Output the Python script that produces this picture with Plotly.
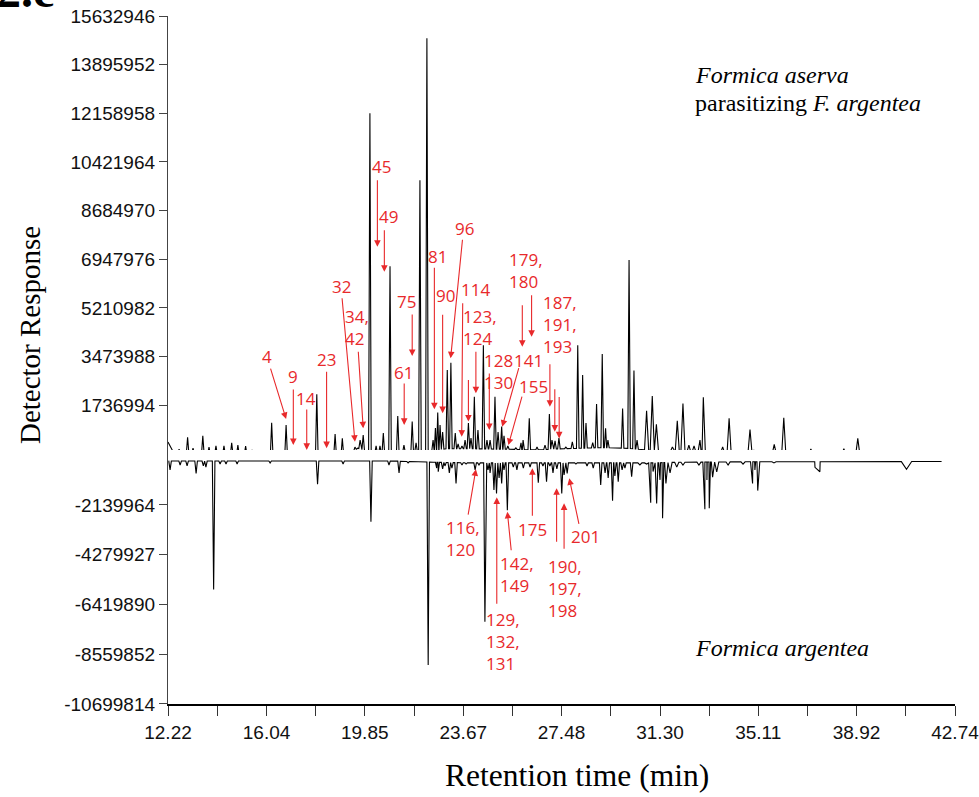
import numpy as np
import plotly.graph_objects as go

# ---------------- data ----------------
# Upper trace: Formica aserva parasitizing F. argentea (retention time min, detector response)
up_peak_t = [12.65, 12.98, 13.19, 13.57, 13.81, 14.08, 14.39, 14.69, 14.93, 15.23, 15.48, 15.71,
             16.24, 16.80, 17.06, 17.60, 17.80, 17.99, 18.37, 18.50, 18.70, 18.98, 19.47, 19.67,
             19.79, 20.05, 20.29, 20.44, 20.57, 20.83, 21.13, 21.37, 21.69, 21.84, 21.99, 22.26,
             22.50, 22.59, 22.68, 22.77, 22.87, 23.05, 23.19, 23.36, 23.47, 23.62, 23.74, 23.87,
             23.97, 24.10, 24.24, 24.45, 24.59, 24.71, 24.90, 25.02, 25.16, 25.25, 25.40, 25.71,
             25.91, 25.99, 26.23, 26.53, 26.84, 27.01, 27.11, 27.23, 27.38, 27.65, 27.90, 28.11,
             28.30, 28.43, 28.69, 28.84, 29.06, 29.19, 29.28, 29.85, 30.10, 30.29, 30.41, 30.78,
             31.00, 31.16, 31.78, 31.97, 32.19, 32.42, 32.62, 32.85, 32.98, 33.73, 33.98, 34.79,
             34.94, 35.73, 36.10, 37.15, 37.40, 38.43, 38.64, 38.97, 40.38]
up_peak_h = [0.17, 0.59, 0.20, 0.64, 0.24, 0.28, 0.28, 0.39, 0.31, 0.28, 0.14, 0.10,
             1.11, 1.03, 0.11, 0.10, 0.10, 2.13, 0.10, 0.08, 0.71, 0.55, 0.24, 0.49,
             0.67, 12.16, 0.28, 0.28, 0.74, 6.70, 1.35, 0.31, 1.15, 0.39, 9.77, 14.84,
             0.49, 0.92, 1.47, 1.03, 0.78, 2.99, 3.25, 0.74, 0.35, 0.28, 0.49, 1.10,
             0.56, 2.04, 0.85, 3.88, 0.49, 0.49, 2.04, 0.78, 0.97, 0.64, 0.28, 0.21,
             0.39, 0.49, 1.27, 0.24, 0.31, 1.42, 0.49, 0.46, 0.56, 0.24, 0.43, 3.88,
             2.81, 1.10, 0.40, 1.78, 3.56, 0.91, 0.49, 1.62, 6.92, 2.97, 0.49, 1.54,
             2.06, 1.05, 0.24, 1.18, 1.80, 0.31, 0.28, 0.49, 2.02, 0.25, 1.27, 0.87,
             0.14, 0.34, 1.29, 0.17, 0.09, 0.18, 0.11, 0.55, 0.04]
up_base_t = [12.22, 12.45, 15.0, 18.9, 19.3, 19.58, 19.9, 20.2, 21.0, 22.4, 23.0, 24.0,
             25.5, 26.5, 27.5, 29.0, 30.0, 31.3, 32.0, 33.5, 35.5, 40.0, 42.0, 42.22]
up_base_v = [0.42, 0.02, -0.02, -0.04, 0.02, 0.20, 0.10, 0.02, 0.05, 0.10, 0.18, 0.18,
             0.16, 0.14, 0.18, 0.22, 0.20, 0.10, 0.06, 0.02, 0.0, -0.04, -0.04, 0.03]

# Lower trace: Formica argentea (plotted as negative response)
lo_peak_t = [12.30, 12.69, 12.96, 13.31, 13.59, 13.69, 13.99, 14.24, 14.47, 14.90, 16.18, 18.02,
             19.01, 20.09, 20.79, 21.18, 21.53, 22.31, 22.64, 22.70, 22.87, 22.96, 23.13, 23.23,
             23.39, 23.62, 23.78, 24.13, 24.28, 24.51, 24.63, 24.71, 24.86, 24.96, 25.06, 25.16,
             25.25, 25.38, 25.61, 25.75, 26.00, 26.26, 26.58, 26.76, 26.90, 27.03, 27.15, 27.30,
             27.49, 27.58, 27.70, 28.04, 28.47, 28.71, 29.00, 29.17, 29.29, 29.46, 29.55, 29.68,
             29.83, 29.94, 30.20, 30.52, 30.78, 30.94, 31.03, 31.17, 31.30, 31.40, 31.53, 31.69,
             31.95, 32.19, 32.81, 33.04, 33.12, 33.21, 33.34, 33.50, 33.94, 34.52, 34.89, 34.98,
             35.09, 35.72, 37.31, 37.50, 40.86]
lo_peak_h = [-0.63, -0.42, -0.46, -0.78, -0.46, -0.51, -5.77, -0.38, -0.38, -0.38, -0.33, -1.25,
             -0.38, -2.86, -0.42, -0.76, -0.33, -9.02, -0.55, -0.71, -0.59, -0.46, -0.76, -0.55,
             -1.21, -0.42, -0.38, -0.63, -0.42, -7.16, -0.63, -0.76, -1.49, -1.64, -0.98, -1.21,
             -0.63, -2.36, -0.51, -0.63, -0.55, -0.51, -1.18, -0.46, -1.14, -0.46, -0.76, -0.59,
             -1.64, -0.85, -0.78, -0.38, -0.46, -0.55, -1.28, -0.76, -0.98, -1.96, -0.89, -1.14,
             -0.63, -0.55, -0.92, -0.42, -0.38, -2.04, -0.70, -2.07, -1.06, -2.71, -1.21, -0.76,
             -0.51, -0.42, -0.42, -2.32, -1.06, -2.28, -0.94, -0.72, -0.42, -0.38, -1.21, -0.63,
             -1.52, -0.33, -0.52, -0.71, -0.60]
lo_base_t = [12.24, 21.0, 22.5, 24.0, 28.0, 31.0, 32.0, 35.0, 42.22]
lo_base_v = [-0.25, -0.25, -0.30, -0.33, -0.33, -0.33, -0.30, -0.28, -0.27]
broad_peaks = [37.31, 37.50, 40.86]

SCALE = 1e6  # values above are in millions of detector units

# axis ticks
x_tick_vals = [12.22, 16.04, 19.85, 23.67, 27.48, 31.30, 35.11, 38.92, 42.74]
x_tick_text = ["12.22", "16.04", "19.85", "23.67", "27.48", "31.30", "35.11", "38.92", "42.74"]
y_up_ticks = [1736994, 3473988, 5210982, 6947976, 8684970, 10421964, 12158958, 13895952, 15632946]
y_lo_ticks = [-2139964, -4279927, -6419890, -8559852, -10699814]

# compound labels: (text, retention time, response in millions, subplot)
label_text = [("4", 16.06, 3.49, "y"), ("9", 17.08, 2.75, "y"), ("14", 17.56, 1.98, "y"),
              ("23", 18.35, 3.38, "y"), ("32", 18.96, 5.96, "y"), ("34,<br>42", 19.54, 4.505, "y"),
              ("45", 20.48, 10.27, "y"), ("49", 20.76, 8.49, "y"),
              ("61", 21.37, 2.91, "y"), ("75", 21.48, 5.43, "y"), ("81", 22.68, 7.03, "y"),
              ("90", 22.99, 5.67, "y"), ("96", 23.70, 8.05, "y"), ("114", 24.13, 5.85, "y"),
              ("123,<br>124", 24.32, 4.52, "y"), ("128<br>130", 25.05, 2.93, "y"),
              ("141", 26.19, 3.32, "y"), ("155", 26.39, 2.42, "y"),
              ("179,<br>180", 26.10, 6.535, "y"), ("187,<br>191,<br>193", 27.42, 4.62, "y"),
              ("116,<br>120", 23.65, -3.575, "y2"), ("129,<br>132,<br>131", 25.22, -8.02, "y2"),
              ("142,<br>149", 25.77, -5.13, "y2"), ("175", 26.35, -3.19, "y2"),
              ("190,<br>197,<br>198", 27.62, -5.74, "y2"), ("201", 28.42, -3.50, "y2")]
# arrows: head (retention time, response in millions), tail offset in px, subplot
arrow_specs = [(16.80, 1.24, -16, -52, "y"), (17.08, 0.31, 0, -57, "y"), (17.60, 0.14, 0, -42, "y"),
               (18.37, 0.20, 0, -78, "y"), (19.47, 0.43, -13, -145, "y"), (19.79, 0.91, -5, -78, "y"),
               (20.34, 7.39, 0, -68, "y"), (20.61, 6.50, 0, -43, "y"), (21.38, 1.03, 0, -43, "y"),
               (21.69, 3.49, 0, -43, "y"), (22.55, 1.59, 0, -143, "y"), (22.87, 1.45, 0, -100, "y"),
               (23.18, 3.41, 12, -120, "y"), (23.61, 0.61, 1, -135, "y"), (23.87, 1.15, 0, -43, "y"),
               (24.16, 2.16, 0, -43, "y"), (24.68, 0.85, 0, -58, "y"), (25.18, 0.97, 17, -60, "y"),
               (25.42, 0.31, 14, -50, "y"), (25.96, 3.82, 0, -43, "y"), (26.32, 4.18, 0, -43, "y"),
               (27.03, 1.68, 0, -44, "y"), (27.22, 0.79, 0, -44, "y"), (27.39, 0.55, 0, -43, "y"),
               (24.16, -0.60, -8, 47, "y2"), (24.97, -1.81, 0, 108, "y2"), (25.38, -2.43, 4, 40, "y2"),
               (26.35, -0.56, 0, 49, "y2"), (27.29, -1.42, 0, 55, "y2"), (27.58, -2.07, 0, 47, "y2"),
               (27.78, -0.99, 10, 47, "y2")]


# ---------------- build traces ----------------
def peak_width(t):
    if t in broad_peaks:
        return 0.2
    return 0.05 if t < 30.5 else 0.08


def build_trace(pt, ph, bt, bv):
    spans = [(t - peak_width(t), t + peak_width(t)) for t in pt]
    xs, ys = [], []
    for t, v in zip(bt, bv):
        if not any(a <= t <= b for a, b in spans):
            xs.append(t)
            ys.append(v)
    for t, h in zip(pt, ph):
        w = peak_width(t)
        xs += [t - w, t, t + w]
        ys += [float(np.interp(t - w, bt, bv)), h, float(np.interp(t + w, bt, bv))]
    xs = np.array(xs)
    ys = np.array(ys) * SCALE
    order = np.argsort(xs, kind="stable")
    return xs[order], ys[order]


ux, uy = build_trace(up_peak_t, up_peak_h, up_base_t, up_base_v)
lx, ly = build_trace(lo_peak_t, lo_peak_h, lo_base_t, lo_base_v)

fig = go.Figure()
fig.add_trace(go.Scatter(x=ux, y=uy, mode="lines", line=dict(color="black", width=1.1),
                         xaxis="x", yaxis="y", showlegend=False, hoverinfo="skip"))
fig.add_trace(go.Scatter(x=lx, y=ly, mode="lines", line=dict(color="black", width=1.1),
                         xaxis="x", yaxis="y2", showlegend=False, hoverinfo="skip"))

RED = "#E8292B"
annotations = []
for txt, t, v, ax_ in label_text:
    annotations.append(dict(text=txt, x=t, y=v * SCALE, xref="x", yref=ax_, showarrow=False,
                            font=dict(family="Open Sans", size=17, color=RED), align="left",
                            xanchor="center", yanchor="middle"))
for t, v, dx, dy, ax_ in arrow_specs:
    annotations.append(dict(text="", x=t, y=v * SCALE, xref="x", yref=ax_, showarrow=True,
                            ax=dx, ay=dy, axref="pixel", ayref="pixel",
                            arrowhead=2, arrowsize=1.2, arrowwidth=1.1, arrowcolor=RED,
                            standoff=0, startstandoff=0))

serif = "Liberation Serif"
annotations += [
    dict(text="<b>2.c</b>", x=-0.2198, y=1.037, xref="paper", yref="paper", xanchor="left",
         yanchor="middle", showarrow=False, font=dict(family=serif, size=48, color="black")),
    dict(text="Detector Response", x=-0.1753, y=0.5363, xref="paper", yref="paper", textangle=-90,
         xanchor="center", yanchor="middle",
         showarrow=False, font=dict(family=serif, size=29, color="black")),
    dict(text="Retention time (min)", x=0.5197, y=-0.1032, xref="paper", yref="paper",
         xanchor="center", yanchor="middle",
         showarrow=False, font=dict(family=serif, size=31.5, color="black")),
    dict(text="<i>Formica aserva</i>", x=0.6671, y=0.9142, xref="paper", yref="paper",
         xanchor="left", yanchor="middle", showarrow=False,
         font=dict(family=serif, size=24, color="black")),
    dict(text="parasitizing <i>F. argentea</i>", x=0.6671, y=0.8735, xref="paper", yref="paper",
         xanchor="left", yanchor="middle", showarrow=False,
         font=dict(family=serif, size=24, color="black")),
    dict(text="<i>Formica argentea</i>", x=0.6671, y=0.0814, xref="paper", yref="paper",
         xanchor="left", yanchor="middle", showarrow=False,
         font=dict(family=serif, size=24, color="black")),
]

tickfont = dict(family="Liberation Sans", size=19, color="#111")
x_minor = [(a + b) / 2 for a, b in zip(x_tick_vals[:-1], x_tick_vals[1:])]

fig.update_layout(
    width=979, height=797,
    margin=dict(l=168, r=24, t=16, b=93, autoexpand=False),
    paper_bgcolor="white", plot_bgcolor="white",
    showlegend=False,
    xaxis=dict(domain=[0, 1], range=[12.2199, 42.7401], anchor="y2", showline=True,
               linecolor="black", linewidth=1.5, ticks="outside", ticklen=10, tickwidth=1.2,
               tickcolor="#333", tickvals=x_tick_vals, ticktext=x_tick_text, tickfont=tickfont,
               ticklabeloverflow="allow", automargin=False, showgrid=False, zeroline=False,
               minor=dict(tickvals=x_minor, ticks="outside", ticklen=10, tickwidth=1.2,
                          tickcolor="#333", showgrid=False)),
    yaxis=dict(domain=[0.35174, 1], range=[-292674, 15632946], anchor="x", showline=True,
               linecolor="#444", linewidth=1.3, ticks="outside", ticklen=8, tickwidth=1.2,
               tickcolor="#444", tickvals=y_up_ticks, ticktext=[str(v) for v in y_up_ticks],
               tickfont=tickfont, ticklabeloverflow="allow", automargin=False,
               showgrid=False, zeroline=False),
    yaxis2=dict(domain=[0, 0.36919], range=[-10699814, 225829], anchor="x", showline=True,
                linecolor="#444", linewidth=1.3, ticks="outside", ticklen=8, tickwidth=1.2,
                tickcolor="#444", tickvals=y_lo_ticks, ticktext=[str(v) for v in y_lo_ticks],
                tickfont=tickfont, ticklabeloverflow="allow", automargin=False,
                showgrid=False, zeroline=False),
    annotations=annotations,
)

fig.write_html("out.html")
